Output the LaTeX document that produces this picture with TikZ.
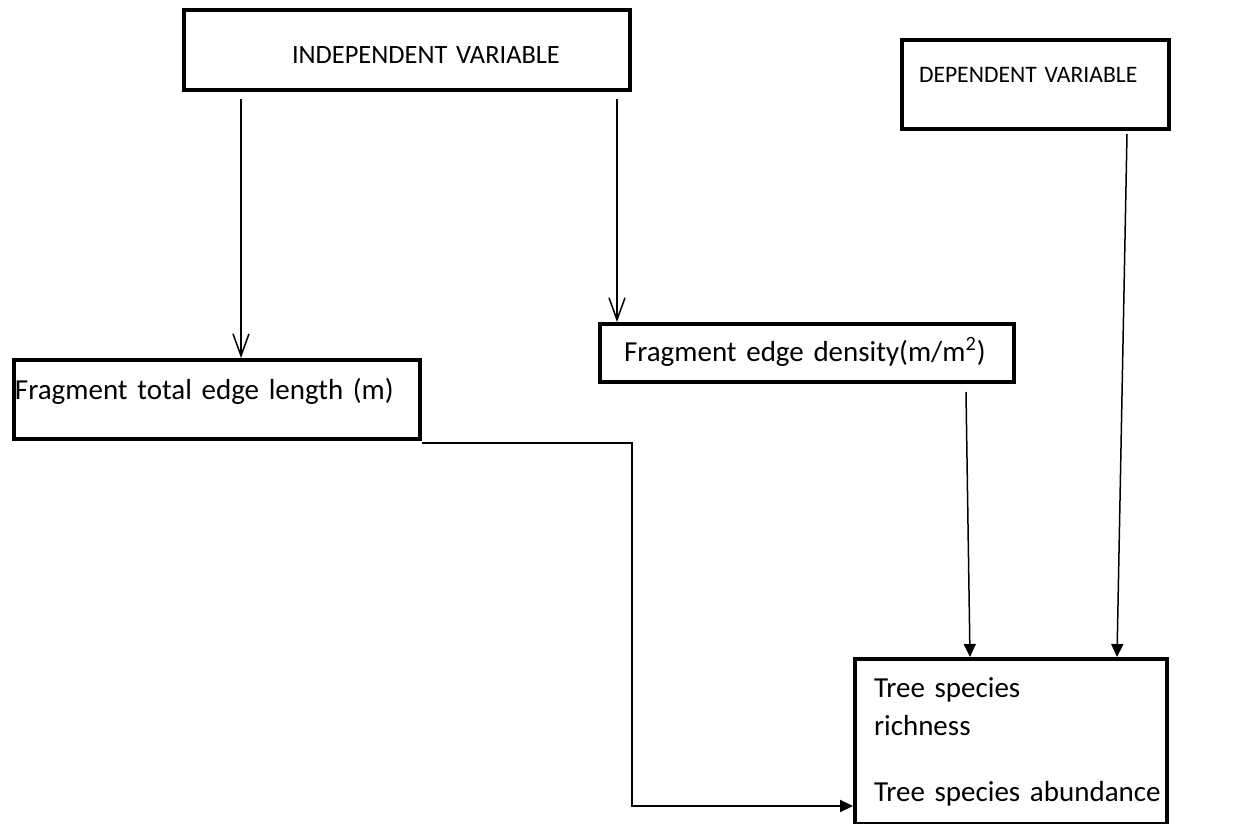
\documentclass[tikz,border=0pt]{standalone}
\usepackage{fontspec}
\setmainfont{Carlito}
\usetikzlibrary{positioning, arrows.meta}

\begin{document}
\begin{tikzpicture}[
  x=0.5pt, y=-0.5pt,
  every node/.style={font=\fontsize{14.5}{19}\selectfont},
  box/.style={draw, line width=2pt, rectangle, anchor=north west, inner ysep=0pt, align=left},
  arr/.style={-{Straight Barb[length=11pt,width=8pt]}, line width=0.75pt},
  farr/.style={-{Triangle[length=6.5pt,width=6pt]}, line width=0.75pt}
]
  \useasboundingbox (0,0) rectangle (1249,824);

  \node[box, inner xsep=54pt, text width=115pt, text height=27pt, text depth=13pt,
        font=\fontsize{13.2}{16}\selectfont] (indep) at (182,8) {\mbox{INDEPENDENT VARIABLE}};
  \node[box, inner xsep=8.5pt, text width=116.5pt, text height=21.5pt, text depth=23pt,
        font=\fontsize{11.8}{14}\selectfont] (dep) at (900,38) {DEPENDENT VARIABLE};
  \node[box, inner xsep=12pt, text width=183pt, text height=18.5pt, text depth=10.5pt] (dens) at (598,322) {Fragment edge density(m/m\textsuperscript{2})};
  \node[box, inner xsep=0.5pt, text width=202pt, text height=19.5pt, text depth=20pt] (len) at (12,358) {Fragment total edge length (m)};
  \node[box, inner xsep=9.5pt, text width=137pt, text height=19pt, text depth=63.5pt] (tree) at (853,657) {Tree species\\richness\\[14pt]\mbox{Tree species abundance}};

  \coordinate (turn) at (632,443);

  \draw[arr] ([xshift=-83pt,yshift=-3.5pt]indep.south) -- ([xshift=12pt]len.north);
  \draw[arr] ([xshift=105pt,yshift=-3.5pt]indep.south) -- ([xshift=-95pt]dens.north);
  \draw[farr] ([xshift=79.5pt,yshift=-4pt]dens.south) -- ([xshift=-20.5pt]tree.north);
  \draw[farr] ([xshift=45.75pt,yshift=-1.5pt]dep.south) -- ([xshift=53pt]tree.north);
  \draw[farr, line width=1pt] (len.east |- turn) -- (turn) |- ([yshift=10pt]tree.south west);
\end{tikzpicture}
\end{document}
